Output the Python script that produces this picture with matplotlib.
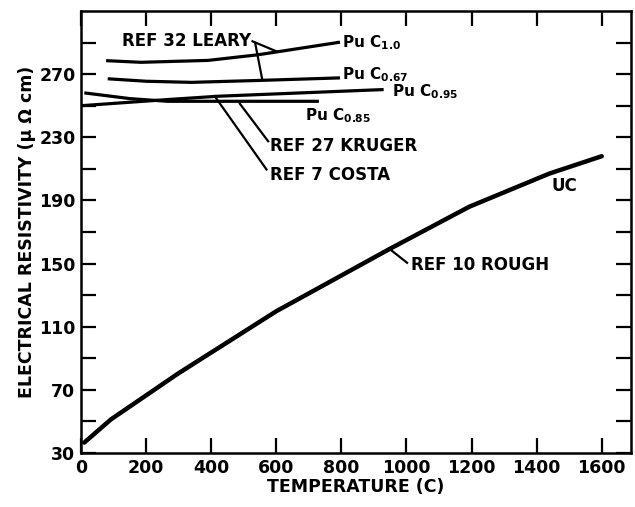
import numpy as np
import matplotlib
matplotlib.use('Agg')
import matplotlib.pyplot as plt

# curves (temperature C, resistivity micro-ohm cm)
uc_t = [10, 92, 298, 600, 946, 1193, 1439, 1600]
uc_r = [36.6, 51.3, 80.3, 119.8, 159, 186, 207, 218]

pc10_t = [82, 184, 390, 545, 791]
pc10_r = [278.5, 277.5, 278.7, 282.3, 290.1]

pc067_t = [87, 200, 339, 545, 791]
pc067_r = [267, 265.5, 264.8, 266, 267.6]

pc095_t = [0, 266, 421, 925]
pc095_r = [250, 253.9, 256, 260.2]

pc085_t = [15, 150, 266, 500, 726]
pc085_r = [258, 254.5, 252.8, 252.8, 252.8]

xticks = np.arange(0, 1601, 200)
yticks = np.arange(30, 291, 20)
ylabels = [str(v) if (v - 30) % 40 == 0 else '' for v in yticks]

plt.rcParams['font.family'] = 'DejaVu Sans'
plt.rcParams['font.weight'] = 'bold'
plt.rcParams['mathtext.default'] = 'bf'

fig = plt.figure(figsize=(6.35, 5.07), dpi=100)
ax = fig.add_axes([0.1276, 0.1065, 0.8661, 0.8718])

lw = 2.3
ax.plot(uc_t, uc_r, color='black', lw=3.2, solid_capstyle='round',
        solid_joinstyle='round')
ax.plot(pc10_t, pc10_r, color='black', lw=lw)
ax.plot(pc067_t, pc067_r, color='black', lw=lw)
ax.plot(pc095_t, pc095_r, color='black', lw=lw)
ax.plot(pc085_t, pc085_r, color='black', lw=lw)

fs = 11
ax.text(801, 290, r'Pu C$_{1.0}$', fontsize=fs, va='center', fontweight='bold')
ax.text(801, 269.5, r'Pu C$_{0.67}$', fontsize=fs, va='center', fontweight='bold')
ax.text(956, 259, r'Pu C$_{0.95}$', fontsize=fs, va='center', fontweight='bold')
ax.text(688, 244, r'Pu C$_{0.85}$', fontsize=fs, va='center', fontweight='bold')

# leaders
fs2 = 12
llw = 1.6
ax.text(524, 291, 'REF 32 LEARY', fontsize=fs2, va='center', ha='right',
        fontweight='bold')
ax.plot([527, 601], [290.8, 284.4], color='black', lw=llw)
ax.plot([535, 557], [289.8, 266.5], color='black', lw=llw)

ax.plot([488, 575], [251.3, 227.5], color='black', lw=llw)
ax.text(581, 224.3, 'REF 27 KRUGER', fontsize=fs2, va='center', fontweight='bold')

ax.plot([411, 570], [256, 209.6], color='black', lw=llw)
ax.text(581, 206.4, 'REF 7 COSTA', fontsize=fs2, va='center', fontweight='bold')

ax.plot([946, 1002], [159.6, 150.5], color='black', lw=llw)
ax.text(1013, 149.4, 'REF 10 ROUGH', fontsize=fs2, va='center', fontweight='bold')

ax.text(1445, 199, 'UC', fontsize=fs2, va='center', fontweight='bold')

ax.set_xlim(0, 1690)
ax.set_ylim(30, 310)
ax.set_xticks(xticks)
ax.set_yticks(yticks)
ax.set_yticklabels(ylabels)
ax.tick_params(direction='in', length=11, width=1.6, top=True, right=True,
               labelsize=12.5, pad=4)
for lab in ax.get_xticklabels() + ax.get_yticklabels():
    lab.set_fontweight('bold')
for s in ax.spines.values():
    s.set_linewidth(1.8)

ax.set_xlabel('TEMPERATURE (C)', fontsize=12.5, fontweight='bold', labelpad=1)
ax.set_ylabel('ELECTRICAL RESISTIVITY (\u03bc \u03a9 cm)', fontsize=12.5,
              fontweight='bold', labelpad=2)

plt.savefig('out.png', dpi=100)
